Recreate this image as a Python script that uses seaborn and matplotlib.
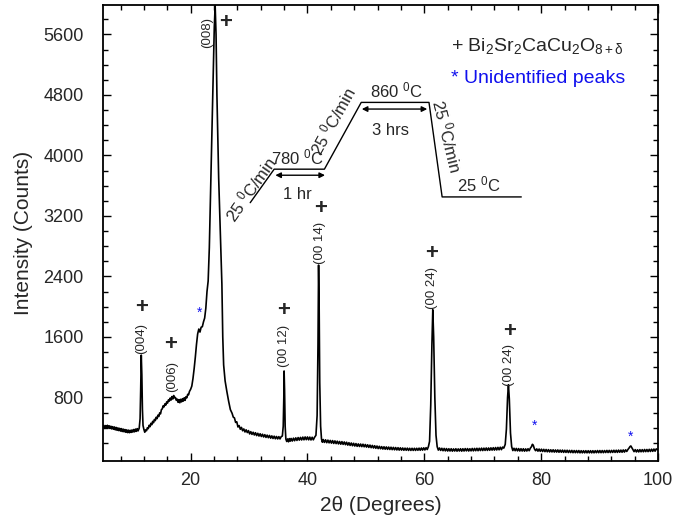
import matplotlib
matplotlib.use("Agg")
import matplotlib.pyplot as plt
from matplotlib.ticker import FixedLocator
import seaborn as sns
import pandas as pd

# XRD scan of the Bi-2212 film, split by angular region: (2theta in degrees, counts)
scan_low = [
    (5.0, 395), (5.15, 430), (5.3, 392), (5.45, 428), (5.6, 398), (5.75, 432), (5.9, 396),
    (6.05, 426), (6.2, 390), (6.35, 420), (6.5, 384), (6.65, 414), (6.8, 380), (6.95, 410),
    (7.1, 372), (7.25, 404), (7.4, 366), (7.55, 398), (7.7, 362), (7.85, 392), (8.0, 356),
    (8.15, 388), (8.3, 350), (8.45, 382), (8.6, 346), (8.75, 376), (8.9, 340), (9.05, 372),
    (9.2, 336), (9.35, 368), (9.5, 334), (9.65, 366), (9.8, 338), (9.95, 370), (10.1, 342),
    (10.25, 376), (10.4, 346), (10.55, 382), (10.7, 352), (10.85, 388), (11.0, 358),
    (11.2, 395), (11.35, 520), (11.45, 900), (11.55, 1360), (11.65, 1100), (11.75, 640),
    (11.85, 430), (12.0, 378), (12.15, 340), (12.3, 372), (12.45, 360), (12.6, 400),
    (12.75, 388), (12.9, 432), (13.05, 414), (13.2, 458), (13.35, 440), (13.5, 484),
    (13.65, 466), (13.8, 510), (13.95, 494), (14.1, 538), (14.25, 520), (14.4, 566),
    (14.55, 548), (14.7, 596), (14.85, 584), (15.0, 640), (15.15, 650), (15.3, 690),
    (15.45, 676), (15.6, 716), (15.75, 700), (15.9, 742), (16.05, 726), (16.2, 768),
    (16.35, 752), (16.5, 792), (16.65, 766), (16.8, 812), (16.95, 780), (17.1, 826),
    (17.25, 796), (17.4, 800), (17.55, 762), (17.7, 778), (17.85, 736), (18.0, 772),
    (18.15, 730), (18.3, 776), (18.45, 742), (18.6, 784), (18.75, 752), (18.9, 796),
    (19.05, 762), (19.2, 810), (19.35, 796), (19.5, 842), (19.65, 836), (19.8, 880),
    (20.0, 908),
]
scan_008 = [
    (20.2, 950), (20.4, 1050), (20.6, 1180), (20.8, 1330), (21.0, 1500), (21.2, 1640),
    (21.4, 1705), (21.6, 1665), (21.8, 1730), (22.0, 1735), (22.2, 1800), (22.4, 1850),
    (22.6, 1980), (22.8, 2200), (23.0, 2340), (23.2, 2780), (23.5, 3800), (23.8, 4800),
    (24.05, 5700), (24.2, 5980), (24.35, 5600), (24.5, 4800), (24.8, 3700), (25.1, 2950),
    (25.35, 2300), (25.5, 1600), (25.65, 1230), (25.9, 1020), (26.2, 880), (26.5, 752),
    (26.8, 640), (27.1, 590), (27.3, 540), (27.5, 530), (27.7, 470), (27.9, 478),
    (28.1, 410), (28.3, 428), (28.5, 380), (28.7, 404), (28.9, 360), (29.1, 384),
    (29.3, 344), (29.5, 372), (29.7, 336), (29.9, 362),
]
scan_mid = [
    (30.1, 318), (30.3, 348), (30.5, 312), (30.7, 340), (30.9, 304), (31.1, 334),
    (31.3, 296), (31.5, 326), (31.7, 290), (31.9, 320), (32.1, 284), (32.3, 314),
    (32.5, 278), (32.7, 308), (32.9, 272), (33.1, 302), (33.3, 268), (33.5, 298),
    (33.7, 262), (33.9, 292), (34.1, 258), (34.3, 288), (34.5, 254), (34.7, 284),
    (34.9, 252), (35.1, 282), (35.3, 252), (35.5, 282), (35.7, 290), (35.85, 420),
    (35.95, 800), (36.0, 1150), (36.08, 900), (36.18, 420), (36.3, 250), (36.45, 218),
    (36.6, 252), (36.75, 214), (36.9, 256), (37.05, 222), (37.2, 258), (37.4, 224),
    (37.6, 262), (37.8, 228), (38.0, 266), (38.2, 232), (38.4, 270), (38.6, 236),
    (38.8, 272), (39.0, 238), (39.2, 276), (39.4, 240), (39.6, 278), (39.8, 242),
    (40.0, 278), (40.2, 240), (40.4, 276), (40.6, 238), (40.8, 274), (41.0, 240),
    (41.2, 272), (41.45, 300), (41.65, 560), (41.8, 1500), (41.9, 2550), (42.0, 2000),
    (42.1, 1000), (42.25, 420), (42.4, 252), (42.55, 208), (42.7, 244), (42.9, 206),
    (43.1, 240), (43.3, 202), (43.5, 236), (43.7, 200), (43.9, 232), (44.1, 196),
    (44.3, 230), (44.5, 192), (44.7, 226), (44.9, 190), (45.1, 222), (45.3, 186),
    (45.5, 218), (45.7, 182), (45.9, 216), (46.1, 180), (46.3, 212), (46.5, 176),
    (46.7, 208), (46.9, 170), (47.1, 202), (47.3, 166), (47.5, 198), (47.7, 162),
    (47.9, 194), (48.1, 158), (48.3, 190), (48.5, 154), (48.7, 186), (48.9, 152),
    (49.1, 184), (49.3, 150), (49.5, 182), (49.7, 148), (49.9, 178),
]
scan_high = [
    (50.1, 144), (50.3, 174), (50.5, 140), (50.7, 170), (50.9, 136), (51.1, 166),
    (51.3, 132), (51.5, 162), (51.7, 128), (51.9, 158), (52.1, 124), (52.3, 154),
    (52.5, 122), (52.7, 150), (52.9, 118), (53.1, 148), (53.3, 116), (53.5, 146),
    (53.7, 114), (53.9, 144), (54.1, 112), (54.3, 142), (54.5, 110), (54.7, 140),
    (54.9, 108), (55.1, 138), (55.3, 106), (55.5, 136), (55.7, 104), (55.9, 134),
    (56.1, 104), (56.3, 132), (56.5, 102), (56.7, 130), (56.9, 102), (57.1, 130),
    (57.3, 100), (57.5, 128), (57.7, 100), (57.9, 128), (58.1, 100), (58.3, 128),
    (58.5, 100), (58.7, 128), (58.9, 102), (59.1, 130), (59.3, 102), (59.5, 132),
    (59.7, 104), (59.9, 134), (60.1, 106), (60.3, 136), (60.5, 112), (60.7, 150),
    (60.9, 220), (61.1, 700), (61.3, 1500), (61.45, 1960), (61.6, 1600), (61.8, 800),
    (62.0, 300), (62.2, 150), (62.4, 104), (62.6, 132), (62.8, 100), (63.0, 128),
    (63.2, 96), (63.4, 126), (63.6, 94), (63.8, 124), (64.0, 92), (64.2, 122),
    (64.4, 92), (64.6, 122), (64.8, 90), (65.0, 120), (65.2, 92), (65.4, 122),
    (65.6, 90), (65.8, 120), (66.0, 92), (66.2, 122), (66.4, 90), (66.6, 122),
    (66.8, 92), (67.0, 124), (67.2, 94), (67.4, 124), (67.6, 92), (67.8, 122),
    (68.0, 94), (68.2, 126), (68.4, 94), (68.6, 126), (68.8, 96), (69.0, 128),
    (69.2, 96), (69.4, 128), (69.6, 98), (69.8, 130), (70.0, 98), (70.2, 130),
    (70.4, 100), (70.6, 132), (70.8, 100), (71.0, 132), (71.2, 102), (71.4, 134),
    (71.6, 104), (71.8, 136), (72.0, 104), (72.2, 138), (72.4, 106), (72.6, 140),
    (72.8, 108), (73.0, 142), (73.2, 110), (73.4, 144), (73.6, 130), (73.85, 180),
    (74.05, 380), (74.25, 800), (74.4, 968), (74.55, 780), (74.75, 330), (74.95, 150),
]
scan_tail = [
    (75.15, 98), (75.35, 128), (75.55, 96), (75.75, 126), (75.95, 94), (76.15, 124),
    (76.35, 92), (76.55, 122), (76.75, 92), (76.95, 122), (77.15, 90), (77.35, 120),
    (77.55, 92), (77.75, 122), (77.95, 96), (78.15, 130), (78.35, 150), (78.5, 181),
    (78.65, 168), (78.85, 120), (79.05, 96), (79.25, 120), (79.45, 90), (79.65, 118),
    (79.85, 88), (80.05, 116), (80.25, 86), (80.45, 114), (80.65, 84), (80.85, 112),
    (81.05, 82), (81.25, 110), (81.45, 80), (81.65, 108), (81.85, 80), (82.05, 108),
    (82.25, 78), (82.45, 106), (82.65, 78), (82.85, 106), (83.05, 76), (83.25, 104),
    (83.45, 76), (83.65, 104), (83.85, 74), (84.05, 102), (84.25, 74), (84.45, 102),
    (84.65, 72), (84.85, 100), (85.05, 72), (85.25, 100), (85.45, 70), (85.65, 98),
    (85.85, 70), (86.05, 98), (86.25, 70), (86.45, 98), (86.65, 68), (86.85, 96),
    (87.05, 68), (87.25, 96), (87.45, 68), (87.65, 96), (87.85, 68), (88.05, 96),
    (88.25, 68), (88.45, 96), (88.65, 68), (88.85, 96), (89.05, 68), (89.25, 96),
    (89.45, 70), (89.65, 98), (89.85, 70), (90.05, 98), (90.25, 70), (90.45, 98),
    (90.65, 70), (90.85, 98), (91.05, 72), (91.25, 100), (91.45, 72), (91.65, 100),
    (91.85, 72), (92.05, 100), (92.25, 74), (92.45, 102), (92.65, 74), (92.85, 102),
    (93.05, 74), (93.25, 104), (93.45, 76), (93.65, 104), (93.85, 76), (94.05, 106),
    (94.25, 78), (94.45, 108), (94.65, 86), (94.85, 112), (95.05, 132), (95.2, 150),
    (95.35, 159), (95.5, 140), (95.7, 112), (95.9, 84), (96.1, 110), (96.3, 80),
    (96.5, 108), (96.7, 80), (96.9, 110), (97.1, 82), (97.3, 110), (97.5, 82),
    (97.7, 112), (97.9, 84), (98.1, 112), (98.3, 84), (98.5, 114), (98.7, 86),
    (98.9, 116), (99.1, 88), (99.3, 118), (99.5, 90), (99.7, 120), (100.0, 106),
]

# Heat-treatment schedule drawn as an inset trace (plot coordinates)
schedule_x = [30.2, 34.3, 42.9, 49.2, 60.8, 63.05, 76.6]
schedule_y = [3376, 3819, 3819, 4702, 4702, 3452, 3452]

# Peak annotations: (2theta, y of label, label text)
peak_labels = [
    (11.5, 1575, "(004)"),
    (16.85, 1080, "(006)"),
    (22.75, 5630, "(008)"),
    (36.0, 1476, "(00 12)"),
    (42.2, 2850, "(00 14)"),
    (61.25, 2250, "(00 24)"),
    (74.55, 1233, "(00 24)"),
]
phase_marks = [(11.6, 1984), (16.6, 1506), (26.0, 5763), (35.9, 1953),
               (42.25, 3300), (61.25, 2700), (74.6, 1675)]
unknown_marks = [(21.5, 1920), (78.9, 430), (95.3, 278)]

x_major = [20, 40, 60, 80, 100]
y_major = [800, 1600, 2400, 3200, 4000, 4800, 5600]

sns.set_theme(style="ticks")
plt.rcParams["font.family"] = ["Liberation Sans", "DejaVu Sans"]
plt.rcParams["mathtext.fontset"] = "custom"
plt.rcParams["mathtext.rm"] = "Liberation Sans"
plt.rcParams["mathtext.it"] = "Liberation Sans"
plt.rcParams["mathtext.bf"] = "Liberation Sans:bold"

scan = scan_low + scan_008 + scan_mid + scan_high + scan_tail
df = pd.DataFrame(scan, columns=["two_theta", "counts"])

fig = plt.figure(figsize=(6.73, 5.21), dpi=100)
ax = fig.add_axes([103 / 673, 60 / 521, 555 / 673, 456 / 521])

sns.lineplot(data=df, x="two_theta", y="counts", ax=ax, color="black",
             linewidth=1.2, estimator=None, sort=False)

ax.set_xlim(5, 100)
ax.set_ylim(-40, 5990)

ax.xaxis.set_major_locator(FixedLocator(x_major))
ax.xaxis.set_minor_locator(FixedLocator([v for v in range(8, 100, 4) if v not in x_major]))
ax.yaxis.set_major_locator(FixedLocator(y_major))
ax.yaxis.set_minor_locator(FixedLocator([v for v in range(200, 6000, 200) if v not in y_major]))
ax.tick_params(which="both", direction="in", top=True, right=True, color="black", width=1.0)
ax.tick_params(which="major", length=6, labelsize=13)
ax.tick_params(axis="y", which="major", pad=14)
ax.tick_params(axis="x", which="major", pad=8)
ax.tick_params(which="minor", length=3.5)
for side in ax.spines.values():
    side.set_color("black")
    side.set_linewidth(1.3)

ax.set_xlabel("2\u03b8 (Degrees)", fontsize=15, labelpad=5)
ax.set_ylabel("Intensity (Counts)", fontsize=15, labelpad=7)

# heating schedule inset
ax.plot(schedule_x, schedule_y, color="black", linewidth=1.0)
arrow = dict(arrowstyle="<|-|>", color="black", lw=1.0, mutation_scale=8,
             shrinkA=0, shrinkB=0)
ax.annotate("", xy=(34.5, 3739), xytext=(43.0, 3739), arrowprops=arrow)
ax.annotate("", xy=(49.3, 4614), xytext=(60.5, 4614), arrowprops=arrow)
ts = 12
ax.text(38.2, 3973, "780 $^{0}$C", ha="center", va="center", fontsize=ts)
ax.text(38.2, 3487, "1 hr", ha="center", va="center", fontsize=ts)
ax.text(55.3, 4866, "860 $^{0}$C", ha="center", va="center", fontsize=ts)
ax.text(54.2, 4327, "3 hrs", ha="center", va="center", fontsize=ts)
ax.text(69.3, 3620, "25 $^{0}$C", ha="center", va="center", fontsize=ts)
ax.text(30.2, 3557, "25 $^{0}$C/min", ha="center", va="center", fontsize=ts,
        rotation=55, rotation_mode="anchor")
ax.text(44.4, 4460, "25 $^{0}$C/min", ha="center", va="center", fontsize=ts,
        rotation=61, rotation_mode="anchor")
ax.text(64.0, 4260, "25 $^{0}$C/min", ha="center", va="center", fontsize=ts,
        rotation=-76, rotation_mode="anchor")

# peak indexing
for px, py, lab in peak_labels:
    ax.text(px, py, lab, rotation=90, ha="center", va="center", fontsize=9.5)
for px, py in phase_marks:
    ax.text(px, py, "+", ha="center", va="center", fontsize=16, fontweight="bold")
for px, py in unknown_marks:
    ax.text(px, py, "*", ha="center", va="center", fontsize=10, color="#1010ee")

# key
ax.text(64.5, 5454, "+ Bi$_2$Sr$_2$CaCu$_2$O$_{8+\u03b4}$", ha="left", va="center",
        fontsize=14)
ax.text(64.5, 5015, "* Unidentified peaks", ha="left", va="center",
        fontsize=14, color="#1010ee")

fig.savefig("out.png", dpi=100)
